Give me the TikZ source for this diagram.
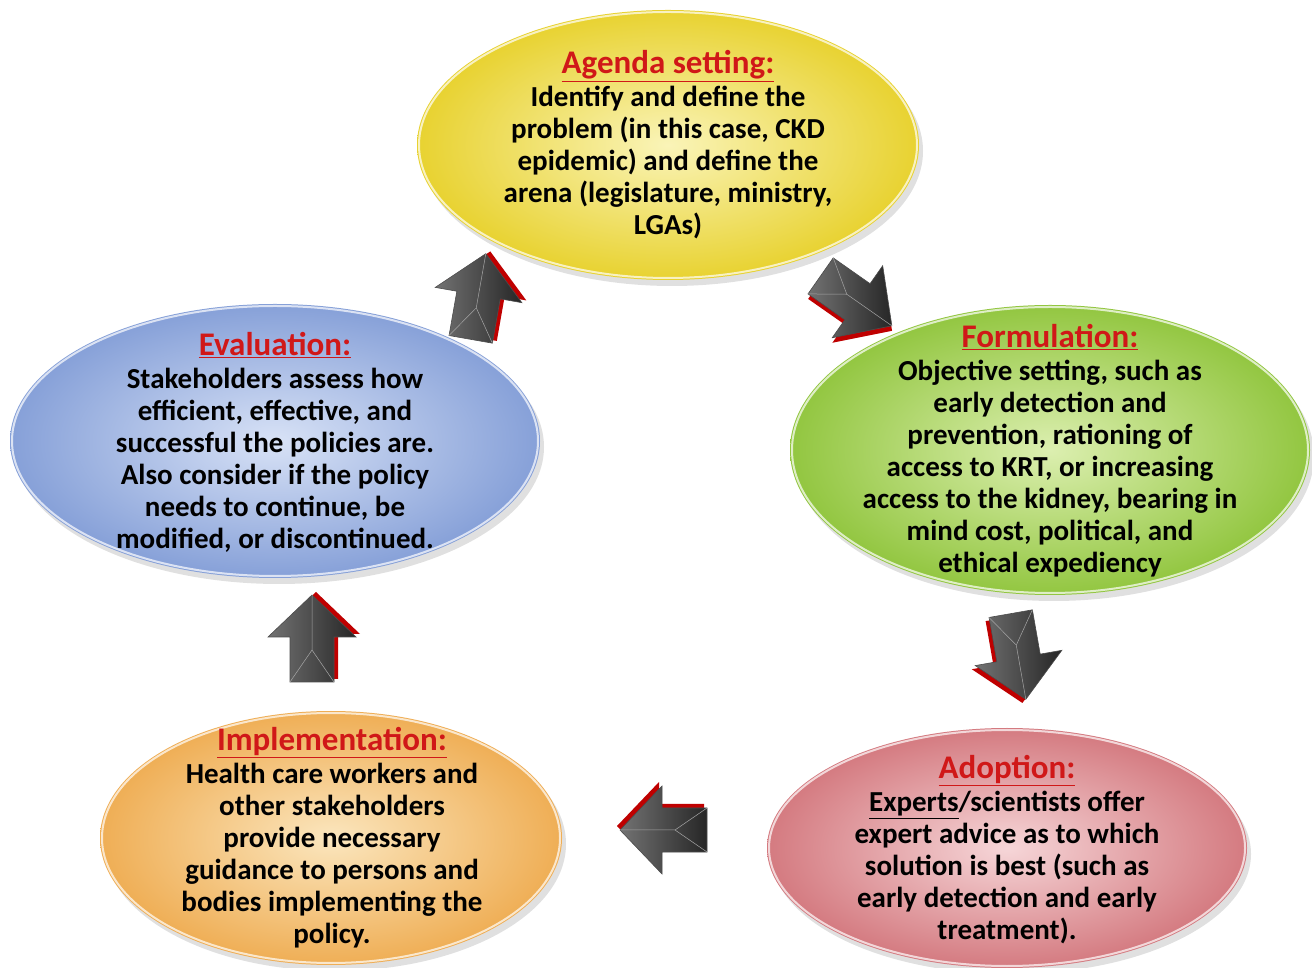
\documentclass[tikz,border=0pt]{standalone}
\usepackage{fontspec}
\setmainfont{Carlito}
\usetikzlibrary{shapes.geometric,calc}
\definecolor{titlered}{HTML}{D01818}
\definecolor{yelO}{HTML}{E8D230}\definecolor{yelI}{HTML}{FAF4B8}
\definecolor{grnO}{HTML}{92C640}\definecolor{grnI}{HTML}{DCEFB0}
\definecolor{bluO}{HTML}{86A0D8}\definecolor{bluI}{HTML}{D8E2F6}
\definecolor{orgO}{HTML}{EFAE55}\definecolor{orgI}{HTML}{FBE6BE}
\definecolor{redO}{HTML}{D47A80}\definecolor{redI}{HTML}{F6D6D8}
\newcommand\ttl[1]{{\fontsize{33}{34}\selectfont\color{titlered}\underline{#1}}\\[1pt]}
\newcommand\blockarr[3]{%
  \begin{scope}[shift={(#1,#2)},rotate=#3]
    \fill[red!75!black] ($(0,0)+(3,-4)$) ++(-42,-22) -- ++(45,0) -- ++(0,-22) -- ++(42,44) -- ++(-42,44) -- ++(0,-22) -- ++(-45,0) -- cycle;
    \shade[left color=black!55,right color=black!85,draw=black!70,line width=0.6pt]
      (-42,-22) -- (3,-22) -- (3,-44) -- (45,0) -- (3,44) -- (3,22) -- (-42,22) -- cycle;
    \draw[black!35,line width=0.5pt] (-42,-22) -- (-10,0) -- (-42,22) (-10,0) -- (45,0);
  \end{scope}}
\tikzset{
  txt/.style={align=center,font=\bfseries\fontsize{29}{32}\selectfont,text=black},
  rim/.style={draw=white,line width=2pt,opacity=0.7},
}
\begin{document}
\begin{tikzpicture}[x=1pt,y=1pt]
\useasboundingbox (0,0) rectangle (1312,967);
\fill[white] (0,0) rectangle (1312,967);
% shadows
\foreach \cx/\cy/\rx/\ry in {668/822/251/135,1050/517/260/145,275/526/265/137,331/129/231/127,1007/119/240/120}
  \fill[black,opacity=0.12] (\cx+4,\cy-6) ellipse [x radius=\rx, y radius=\ry];
% ellipses
\shade[inner color=yelI,outer color=yelO] (668,822) ellipse [x radius=251, y radius=135];
\draw[rim] (668,822) ellipse [x radius=249, y radius=133];
\shade[inner color=grnI,outer color=grnO] (1050,517) ellipse [x radius=260, y radius=145];
\draw[rim] (1050,517) ellipse [x radius=258, y radius=143];
\shade[inner color=bluI,outer color=bluO] (275,526) ellipse [x radius=265, y radius=137];
\draw[rim] (275,526) ellipse [x radius=263, y radius=135];
\shade[inner color=orgI,outer color=orgO] (331,129) ellipse [x radius=231, y radius=127];
\draw[rim] (331,129) ellipse [x radius=229, y radius=125];
\shade[inner color=redI,outer color=redO] (1007,119) ellipse [x radius=240, y radius=120];
\draw[rim] (1007,119) ellipse [x radius=238, y radius=118];
% texts
\node[txt] (agenda) at (668,822) {\ttl{Agenda setting:}Identify and define the\\problem (in this case, CKD\\epidemic) and define the\\arena (legislature, ministry,\\LGAs)};
\node[txt] (form) at (1050,516) {\ttl{Formulation:}Objective setting, such as\\early detection and\\prevention, rationing of\\access to KRT, or increasing\\access to the kidney, bearing in\\mind cost, political, and\\ethical expediency};
\node[txt] (eval) at (275,525) {\ttl{Evaluation:}Stakeholders assess how\\efficient, effective, and\\successful the policies are.\\Also consider if the policy\\needs to continue, be\\modified, or discontinued.};
\node[txt] (impl) at (332,129) {\ttl{Implementation:}Health care workers and\\other stakeholders\\provide necessary\\guidance to persons and\\bodies implementing the\\policy.};
\node[txt] (adopt) at (1007,117) {\ttl{Adoption:}\underline{Experts}/scientists offer\\expert advice as to which\\solution is best (such as\\early detection and early\\treatment).};
% arrows
\blockarr{478}{669}{80}
\blockarr{855}{667}{-35}
\blockarr{1018}{312}{-80}
\blockarr{665}{137}{180}
\blockarr{312}{327}{90}
\end{tikzpicture}
\end{document}
